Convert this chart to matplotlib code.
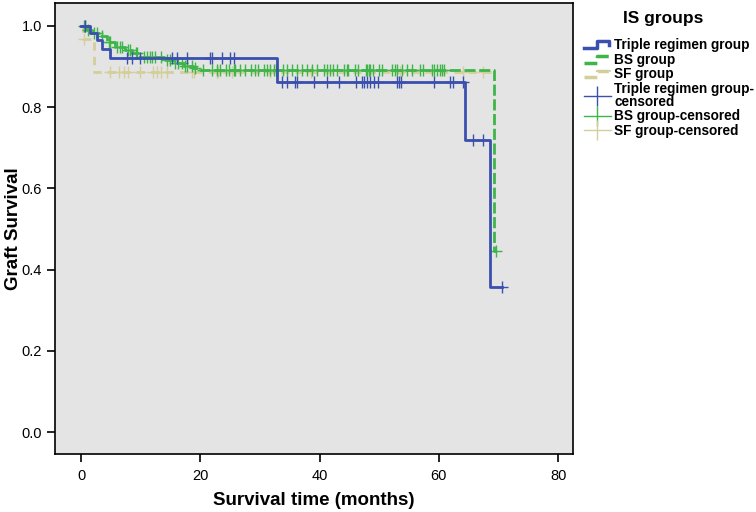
import numpy as np
import matplotlib
matplotlib.use("Agg")
import matplotlib.pyplot as plt
from matplotlib.lines import Line2D
from matplotlib.legend_handler import HandlerBase

plt.rcParams['font.family'] = ['Liberation Sans', 'DejaVu Sans']

# Kaplan-Meier step data (months, survival)
triple_times = [0, 1.5, 2.7, 3.5, 4.9, 32.8, 64.4, 68.5]
triple_surv = [1.0, 0.983, 0.966, 0.943, 0.922, 0.862, 0.719, 0.358]
triple_end = 70.6
triple_cens = [0.6, 7.7, 8.5, 9.9, 15.2, 16.1, 17.7, 21.6, 21.9, 23.6, 25.0, 25.6,
               33.7, 34.5, 35.9, 36.2, 39.0, 41.2, 43.2, 46.1, 47.1, 47.5, 48.0,
               48.5, 49.1, 49.8, 53.0, 53.3, 53.7, 59.1, 61.9, 62.4, 64.1,
               65.7, 67.4, 70.6]

bs_times = [0, 1.0, 1.8, 3.2, 4.3, 5.7, 7.4, 8.5, 9.9, 13.8, 15.5, 17.2, 18.8, 20.0, 69.2]
bs_surv = [1.0, 0.99, 0.982, 0.974, 0.961, 0.949, 0.941, 0.933, 0.923, 0.916, 0.908,
           0.901, 0.896, 0.892, 0.447]
bs_end = 69.5
bs_cens = [0.4, 0.7, 1.2, 2.1, 2.6, 3.5, 4.6, 4.9, 6.0, 6.5, 6.8, 7.9, 8.2, 9.1, 9.3,
           10.5, 11.0, 11.6, 11.9, 12.4, 13.3, 14.4, 14.9, 15.8, 16.3, 16.9, 17.4,
           17.7, 18.6, 19.1, 20.5, 21.9, 22.8, 23.3, 24.2, 24.7, 25.6, 25.8, 26.7,
           27.5, 28.4, 29.2, 29.7, 30.6, 31.2, 31.7, 32.3, 32.6, 33.9, 34.5, 35.4,
           36.2, 37.0, 37.9, 38.7, 39.5, 40.7, 41.2, 41.8, 42.3, 42.9, 44.0, 44.6,
           44.8, 46.0, 46.5, 47.7, 47.9, 48.2, 48.5, 49.0, 49.9, 50.5, 52.1, 52.7,
           53.0, 53.8, 54.6, 55.5, 56.9, 57.4, 58.8, 59.1, 59.7, 60.2, 60.5, 60.8,
           69.5]

sf_times = [0, 0.3, 2.1]
sf_surv = [1.0, 0.967, 0.887]
sf_end = 68.9
sf_cens = [0.4, 4.9, 6.3, 7.1, 7.9, 9.9, 12.1, 12.7, 13.3, 14.4, 18.6, 18.9, 22.8,
           23.0, 25.3, 31.7, 38.5, 53.5, 64.0, 67.4]

x_ticks = [0, 20, 40, 60, 80]
y_ticks = [0.0, 0.2, 0.4, 0.6, 0.8, 1.0]

c_blue = '#3B50AE'
c_green = '#3DB549'
c_khaki = '#D3CE9A'


class StepHandler(HandlerBase):
    def create_artists(self, legend, orig_handle, xdescent, ydescent,
                       width, height, fontsize, trans):
        xs = np.array([0, 0.5, 0.5, 0.92, 0.92]) * width - xdescent
        ys = np.array([0.1, 0.1, 0.8, 0.8, 0.4]) * height - ydescent
        ln = Line2D(xs, ys, color=orig_handle.get_color(),
                    lw=orig_handle.get_linewidth(),
                    linestyle=orig_handle.get_linestyle(),
                    transform=trans)
        return [ln]


def km_curve(ax, times, surv, end, cens, color, dashes):
    t = list(times) + [end]
    s = list(surv) + [surv[-1]]
    kw = dict(color=color, lw=2)
    if dashes is not None:
        kw['dashes'] = dashes
    line, = ax.step(t, s, where='post', **kw)
    idx = np.searchsorted(times, cens, side='right') - 1
    cy = np.array(surv)[idx]
    ax.plot(cens, cy, linestyle='none', marker='+', markersize=9,
            mew=1.0, color=color)
    return line


fig = plt.figure(figsize=(7.56, 5.12), dpi=100)
ax = fig.add_axes([0.0728, 0.113, 0.6852, 0.881])
ax.set_facecolor('#E4E4E4')

km_curve(ax, sf_times, sf_surv, sf_end, sf_cens, c_khaki, (3, 2.2))
km_curve(ax, bs_times, bs_surv, bs_end, bs_cens, c_green, (4, 1.3))
km_curve(ax, triple_times, triple_surv, triple_end, triple_cens, c_blue, None)

ax.set_xlim(-4.4, 82.5)
ax.set_ylim(-0.054, 1.056)
ax.set_xticks(x_ticks)
ax.set_yticks(y_ticks)
ax.set_yticklabels(['%.1f' % v for v in y_ticks])
ax.tick_params(direction='out', length=6, width=1.2, labelsize=10.5, colors='black')
ax.tick_params(axis='x', pad=5)
for sp in ax.spines.values():
    sp.set_linewidth(1.2)

ax.set_xlabel('Survival time (months)', fontsize=13.5, fontweight='bold', labelpad=6)
fig.text(14 / 756, 0.5535, 'Graft Survival', rotation=90, ha='center', va='center',
         fontsize=13.5, fontweight='bold')

h_tr = Line2D([], [], color=c_blue, lw=2.5)
h_bs = Line2D([], [], color=c_green, lw=2.5, linestyle=(0, (4, 1.5)))
h_sf = Line2D([], [], color=c_khaki, lw=2.5, linestyle=(0, (2, 3)))
hc_tr = Line2D([], [], color=c_blue, lw=1, marker='|', markersize=14, mew=1.0)
hc_bs = Line2D([], [], color=c_green, lw=1, marker='|', markersize=14, mew=1.0)
hc_sf = Line2D([], [], color=c_khaki, lw=1, marker='|', markersize=14, mew=1.0)

fig.text(663 / 756, 1 - 18 / 512, 'IS groups', ha='center', va='center',
         fontsize=12.5, fontweight='bold')

labels = ['Triple regimen group', 'BS group', 'SF group',
          'Triple regimen group-\ncensored', 'BS group-censored', 'SF group-censored']
leg = fig.legend([h_tr, h_bs, h_sf, hc_tr, hc_bs, hc_sf], labels,
                 loc='upper left', bbox_to_anchor=(577 / 756, 1 - 31 / 512),
                 frameon=False, handlelength=2.0, handletextpad=0.25,
                 labelspacing=0.06, borderpad=0.0, numpoints=1,
                 prop={'weight': 'bold', 'size': 9.8},
                 handler_map={h_tr: StepHandler(), h_bs: StepHandler(),
                              h_sf: StepHandler()})
for t in leg.get_texts():
    t.set_linespacing(0.85)

fig.savefig('out.png', dpi=100)
